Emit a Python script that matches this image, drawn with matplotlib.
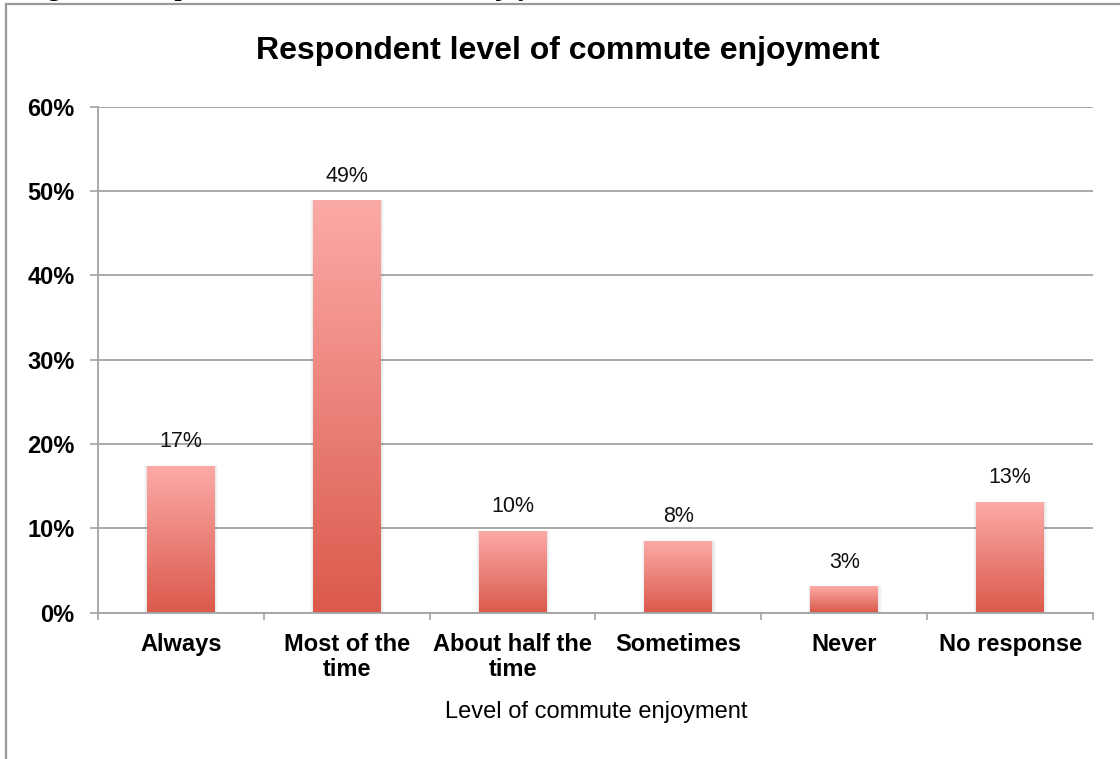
import matplotlib
matplotlib.use("Agg")
import matplotlib.pyplot as plt
import numpy as np
from matplotlib.patches import Rectangle
from matplotlib.colors import LinearSegmentedColormap

# Survey results: share of respondents per level of commute enjoyment (%)
categories = ["Always", "Most of the\ntime", "About half the\ntime",
              "Sometimes", "Never", "No response"]
shares = [17.3, 48.8, 9.6, 8.4, 3.0, 13.0]
y_ticks = [0, 10, 20, 30, 40, 50, 60]
y_tick_labels = [f"{t}%" for t in y_ticks]

title = "Respondent level of commute enjoyment"
x_title = "Level of commute enjoyment"
caption = "Figure 9: Respondent level of commute enjoyment"

W, H = 1120, 759
fig = plt.figure(figsize=(W / 100, H / 100), dpi=100)
plt.rcParams["font.family"] = ["Liberation Sans", "DejaVu Sans"]

# Outer frame (partially cropped) and caption running off the top edge
fig.add_artist(Rectangle((6 / W, -0.1), 1.2, 1.1 - 4.5 / H,
                         transform=fig.transFigure, fill=False,
                         edgecolor="#9a9a9a", linewidth=1.6, clip_on=False))
fig.text(24 / W, 1 + 3.8 / H, caption, family="Liberation Serif",
         weight="bold", fontsize=19, va="baseline", ha="left")

ax = fig.add_axes([98 / W, (H - 612.5) / H, (1093 - 98) / W, (612.5 - 106.7) / H])

grid_col = "#a3a3a3"
cmap = LinearSegmentedColormap.from_list("bar", ["#db5a4c", "#fcaaa7"])
grad = np.linspace(0, 1, 256).reshape(-1, 1)
bar_w = 0.41

x = np.arange(len(categories))
for xi, v in zip(x, shares):
    # soft shadow behind each bar
    for k, a in enumerate([0.035, 0.03, 0.025]):
        d = 0.005 * (k + 1)
        ax.add_patch(Rectangle((xi - bar_w / 2 - d, 0), bar_w + d * 2.4,
                               v + d * 10, facecolor="#000000", alpha=a,
                               edgecolor="none", zorder=2.5))
    ax.imshow(grad, extent=(xi - bar_w / 2, xi + bar_w / 2, 0, v),
              origin="lower", cmap=cmap, aspect="auto", zorder=3,
              interpolation="bilinear")
    ax.annotate(f"{round(v)}%", (xi, v), xytext=(0, 10.5),
                textcoords="offset points", ha="center", va="bottom",
                fontsize=15.5, color="#111111")

ax.set_xlim(-0.5, len(categories) - 0.5)
ax.set_ylim(0, 60)
ax.set_aspect("auto")

ax.set_yticks(y_ticks)
ax.set_yticklabels(y_tick_labels, fontsize=17, fontweight="bold")
ax.tick_params(axis="y", length=5.8, width=1.2, color=grid_col, pad=11)
ax.yaxis.grid(True, color=grid_col, linewidth=1.3, zorder=0)
ax.set_axisbelow(True)

ax.set_xticks(x)
ax.set_xticklabels(categories, fontsize=17, fontweight="bold", linespacing=1.1)
ax.tick_params(axis="x", which="major", length=0, pad=15)
ax.set_xticks(np.arange(-0.5, len(categories), 1), minor=True)
ax.tick_params(axis="x", which="minor", length=5, width=1.2, color=grid_col)

for s in ["top", "right"]:
    ax.spines[s].set_visible(False)
for s in ["left", "bottom"]:
    ax.spines[s].set_color(grid_col)
    ax.spines[s].set_linewidth(1.3)

fig.text(596 / W, 1 - 712 / H, x_title, fontsize=17, ha="center", va="center")
fig.text(568 / W, 1 - 51 / H, title, fontsize=23, fontweight="bold",
         ha="center", va="center")

fig.savefig("out.png", dpi=100)
